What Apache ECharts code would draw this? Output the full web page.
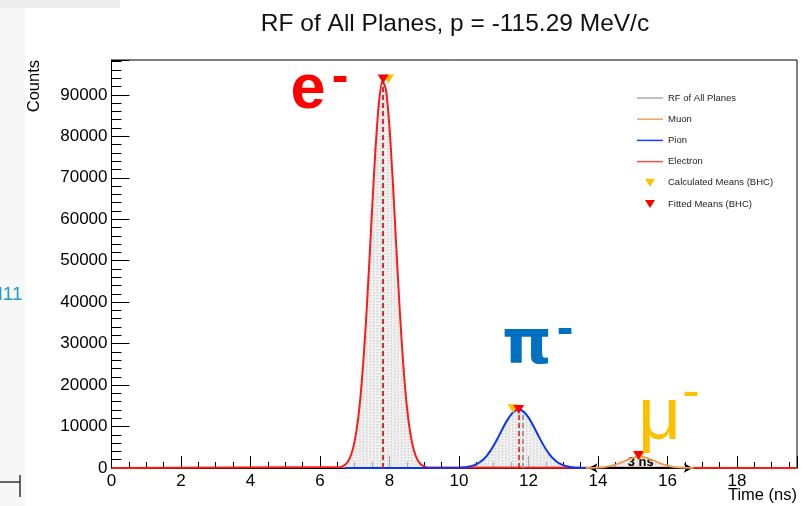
<!DOCTYPE html>
<html>
<head>
<meta charset="utf-8">
<script src="https://cdn.jsdelivr.net/npm/echarts@6/dist/echarts.min.js"></script>
<style>
  html, body { margin: 0; padding: 0; background: #ffffff; }
  #chart { width: 809px; height: 506px; }
</style>
</head>
<body>
<div id="chart"></div>
<script>
// RF timing of all planes: histogram plus per-species Gaussian fits (ns, counts)
const electronTime = [6.6, 6.7, 6.8, 6.9, 7.0, 7.1, 7.2, 7.3, 7.4, 7.5, 7.6, 7.7, 7.8, 7.9, 8.0, 8.1, 8.2, 8.3, 8.4, 8.5, 8.6, 8.7, 8.8, 8.9, 9.0, 9.1];
const electronCounts = [255, 645, 1505, 3250, 6490, 11950, 20350, 32000, 46400, 62300, 77150, 88300, 93350, 91160, 82200, 68500, 52700, 37500, 24600, 14900, 8360, 4330, 2070, 910, 370, 140];

const pionTime = [10.0, 10.1, 10.2, 10.3, 10.4, 10.5, 10.6, 10.7, 10.8, 10.9, 11.0, 11.1, 11.2, 11.3, 11.4, 11.5, 11.6, 11.7, 11.8, 11.9, 12.0, 12.1, 12.2, 12.3, 12.4, 12.5, 12.6, 12.7, 12.8, 12.9, 13.0, 13.1, 13.2, 13.3, 13.4, 13.5, 13.6];
const pionCounts = [60, 110, 200, 340, 565, 900, 1390, 2060, 2950, 4070, 5410, 6930, 8550, 10180, 11670, 12890, 13730, 14090, 13930, 13280, 12200, 10800, 9200, 7570, 6000, 4580, 3370, 2390, 1630, 1070, 680, 420, 245, 140, 76, 40, 20];

const muonTime = [13.8, 13.9, 14.0, 14.1, 14.2, 14.3, 14.4, 14.5, 14.6, 14.7, 14.8, 14.9, 15.0, 15.1, 15.2, 15.3, 15.4, 15.5, 15.6, 15.7, 15.8, 15.9, 16.0, 16.1, 16.2, 16.3, 16.4, 16.5, 16.6];
const muonCounts = [21, 42, 77, 136, 229, 365, 556, 805, 1110, 1456, 1820, 2162, 2446, 2634, 2700, 2650, 2440, 2150, 1810, 1440, 1100, 800, 550, 360, 225, 135, 75, 40, 20];

// Fit ranges along the time axis [from, to]
const electronRange = [0, 19.73];
const pionRange = [6.73, 13.65];
const muonRange = [13.65, 16.75];

// Means from the BHC: calculated and fitted (time, counts)
const calcMeanTime = [7.97, 11.56, 15.2];
const calcMeanCounts = [93800, 14300, 3000];
const fitMeanTime = [7.82, 11.72, 15.17];
const fitMeanCounts = [93800, 14100, 3000];
const pionHistMean = [11.83, 13400];

// 3 ns window around the muon peak
const muonWindow = [13.73, 16.73];
const muonWindowLabel = '3 ns';

// Axis ranges and tick spacing
const timeAxis = { min: 0, max: 19.73, interval: 2 };
const countAxis = { min: 0, max: 98400, interval: 10000 };

const FONT = '"Liberation Sans", Arial, Helvetica, sans-serif';
const pairs = (xs, ys) => xs.map((x, i) => [x, ys[i]]);
const histogram = [].concat(
  pairs(electronTime, electronCounts),
  pairs(pionTime, pionCounts),
  pairs(muonTime, muonCounts)
);
const electronCurve = [[electronRange[0], 0]].concat(pairs(electronTime, electronCounts), [[electronRange[1], 0]]);
const pionCurve = [[pionRange[0], 0]].concat(pairs(pionTime, pionCounts), [[pionRange[1], 0]]);
const muonCurve = [[muonRange[0], 0]].concat(pairs(muonTime, muonCounts), [[muonRange[1], 0]]);

const LINE_ICON = 'path://M0,0H26V1.5H0Z';
const TRI_ICON = 'path://M0,0H10L5,8Z';

const chart = echarts.init(document.getElementById('chart'), null, { renderer: 'canvas' });

const vline = (t, top, color, width, dash) => ({
  silent: true,
  symbol: 'none',
  label: { show: false },
  lineStyle: { color: color, width: width, type: dash, opacity: 1 },
  emphasis: { disabled: true },
  data: [[{ coord: [t, 0] }, { coord: [t, top] }]]
});

chart.setOption({
  animation: false,
  backgroundColor: '#ffffff',
  title: {
    text: 'RF of All Planes, p = -115.29 MeV/c',
    left: 455,
    top: 11.5,
    padding: 0,
    textAlign: 'center',
    textStyle: { fontFamily: FONT, fontSize: 24.5, fontWeight: 'normal', color: '#111' }
  },
  grid: {
    left: 111.5, right: 12, top: 60, bottom: 38,
    containLabel: false,
    outerBoundsMode: 'none',
    show: true, borderColor: '#000', borderWidth: 1, backgroundColor: 'transparent'
  },
  legend: {
    orient: 'vertical',
    left: 632, top: 88,
    itemWidth: 26, itemHeight: 8, itemGap: 11.2,
    selectedMode: false,
    textStyle: { fontFamily: FONT, fontSize: 9.5, color: '#222' },
    data: [
      { name: 'RF of All Planes', icon: LINE_ICON, itemStyle: { color: '#ababab', borderWidth: 0 } },
      { name: 'Muon', icon: LINE_ICON, itemStyle: { color: '#f4a35a', borderWidth: 0 } },
      { name: 'Pion', icon: LINE_ICON, itemStyle: { color: '#1a3cff', borderWidth: 0 } },
      { name: 'Electron', icon: LINE_ICON, itemStyle: { color: '#f25050', borderWidth: 0 } },
      { name: 'Calculated Means (BHC)', icon: TRI_ICON, itemStyle: { color: '#ffc000', borderWidth: 0 } },
      { name: 'Fitted Means (BHC)', icon: TRI_ICON, itemStyle: { color: '#ff0000', borderWidth: 0 } }
    ]
  },
  xAxis: {
    type: 'value',
    min: timeAxis.min, max: timeAxis.max, interval: timeAxis.interval,
    axisLine: { lineStyle: { color: '#000', width: 1 } },
    axisTick: { inside: true, length: 12, lineStyle: { color: '#000', width: 1 } },
    minorTick: { show: true, splitNumber: 4, length: 6, lineStyle: { color: '#000', width: 1 } },
    axisLabel: { fontFamily: FONT, fontSize: 17, color: '#000', margin: 5, showMaxLabel: false, formatter: v => String(v) },
    splitLine: { show: false }
  },
  yAxis: {
    type: 'value',
    min: countAxis.min, max: countAxis.max, interval: countAxis.interval,
    axisLine: { show: true, lineStyle: { color: '#000', width: 1 } },
    axisTick: { show: true, inside: true, length: 18, lineStyle: { color: '#000', width: 1 } },
    minorTick: { show: true, splitNumber: 5, length: 10, lineStyle: { color: '#000', width: 1 } },
    axisLabel: { fontFamily: FONT, fontSize: 17, color: '#000', margin: 4, showMaxLabel: false, formatter: v => String(v) },
    splitLine: { show: false }
  },
  series: [
    {
      name: 'RF of All Planes',
      type: 'bar',
      data: histogram,
      barWidth: 3.5,
      z: 1,
      silent: true,
      itemStyle: { color: 'rgba(236,236,236,0.7)', borderColor: '#a8a8a8', borderWidth: 0.7, borderType: [1, 2] }
    },
    {
      name: 'Electron',
      type: 'line',
      data: electronCurve,
      symbol: 'none',
      smooth: 0.25,
      z: 3,
      itemStyle: { color: '#ff1a1a' },
      lineStyle: { color: '#ff1a1a', width: 2 },
      markLine: vline(fitMeanTime[0], fitMeanCounts[0], '#cc3030', 2, [5, 3])
    },
    {
      name: 'Pion',
      type: 'line',
      data: pionCurve,
      symbol: 'none',
      smooth: 0.25,
      z: 4,
      itemStyle: { color: '#0a36f5' },
      lineStyle: { color: '#0a36f5', width: 2 },
      markLine: {
        silent: true,
        symbol: 'none',
        label: { show: false },
        emphasis: { disabled: true },
        data: [
          [{ coord: [pionHistMean[0], 0], lineStyle: { color: '#9a9a9a', width: 2, type: [5, 3] } },
           { coord: [pionHistMean[0], pionHistMean[1]] }],
          [{ coord: [fitMeanTime[1], 0], lineStyle: { color: '#ff0000', width: 1.5, type: [5, 3] } },
           { coord: [fitMeanTime[1], fitMeanCounts[1]] }]
        ]
      }
    },
    {
      name: 'Muon',
      type: 'line',
      data: muonCurve,
      symbol: 'none',
      smooth: 0.25,
      z: 5,
      itemStyle: { color: '#f39a45' },
      lineStyle: { color: '#f39a45', width: 1.8 },
      markLine: {
        silent: true,
        symbol: ['arrow', 'arrow'],
        symbolSize: [7, 9],
        emphasis: { disabled: true },
        lineStyle: { color: '#000', width: 2, type: 'solid', opacity: 1 },
        label: {
          show: true, position: 'middle', formatter: muonWindowLabel,
          fontFamily: FONT, fontSize: 13, fontWeight: 'bold', color: '#000', distance: -1
        },
        data: [[{ coord: [muonWindow[0], 0] }, { coord: [muonWindow[1], 0] }]]
      }
    },
    {
      name: 'Calculated Means (BHC)',
      type: 'scatter',
      data: pairs(calcMeanTime, calcMeanCounts),
      symbol: 'triangle',
      symbolRotate: 180,
      symbolSize: [11, 9],
      z: 8,
      itemStyle: { color: '#ffc000', opacity: 1 }
    },
    {
      name: 'Fitted Means (BHC)',
      type: 'scatter',
      data: pairs(fitMeanTime, fitMeanCounts),
      symbol: 'triangle',
      symbolRotate: 180,
      symbolSize: [11, 9],
      z: 9,
      itemStyle: { color: '#ff0000', opacity: 1 }
    }
  ],
  graphic: [
    // side panel remnants at the left edge
    { type: 'rect', z: -10, shape: { x: 0, y: 0, width: 120, height: 8 }, style: { fill: '#ececec' } },
    { type: 'rect', z: -10, shape: { x: 0, y: 8, width: 25, height: 498 }, style: { fill: '#f7f7f7' } },
    { type: 'text', z: -9, x: -13, y: 295, style: { text: 'M11', fontFamily: FONT, fontSize: 19, fill: '#1e9cc6', align: 'left', verticalAlign: 'middle' } },
    { type: 'rect', z: -8, shape: { x: 25, y: 280, width: 40, height: 30 }, style: { fill: '#ffffff' } },
    { type: 'line', z: -8, shape: { x1: 0, y1: 482, x2: 20, y2: 482 }, style: { stroke: '#333', lineWidth: 1.5 } },
    { type: 'line', z: -8, shape: { x1: 20, y1: 475, x2: 20, y2: 497 }, style: { stroke: '#333', lineWidth: 1.5 } },
    // axis titles
    { type: 'text', x: 34, y: 60, rotation: Math.PI / 2, style: { text: 'Counts', fontFamily: FONT, fontSize: 16.5, fill: '#000', align: 'right', verticalAlign: 'middle' } },
    { type: 'text', x: 797, y: 495, style: { text: 'Time (ns)', fontFamily: FONT, fontSize: 16.5, fill: '#000', align: 'right', verticalAlign: 'middle' } },
    // particle labels
    { type: 'text', x: 290.5, y: 91, z: 20, style: { text: 'e', fontFamily: FONT, fontWeight: 'bold', fontSize: 63, fill: '#ff0000', align: 'left', verticalAlign: 'middle' } },
    { type: 'text', x: 340, y: 78, z: 20, style: { text: '-', fontFamily: FONT, fontWeight: 'bold', fontSize: 50, fill: '#ff0000', align: 'center', verticalAlign: 'middle' } },
    { type: 'text', x: 502, y: 347, z: 20, style: { text: 'π', fontFamily: '"DejaVu Sans", sans-serif', fontWeight: 'bold', fontSize: 63, fill: '#0070c0', align: 'left', verticalAlign: 'middle' } },
    { type: 'text', x: 565, y: 330, z: 20, style: { text: '-', fontFamily: FONT, fontWeight: 'bold', fontSize: 50, fill: '#0070c0', align: 'center', verticalAlign: 'middle' } },
    { type: 'text', x: 638, y: 418, z: 20, style: { text: 'μ', fontFamily: FONT, fontSize: 75, fill: '#ffc000', align: 'left', verticalAlign: 'middle' } },
    { type: 'text', x: 691, y: 394, z: 20, style: { text: '-', fontFamily: FONT, fontSize: 52, fill: '#ffc000', align: 'center', verticalAlign: 'middle' } }
  ]
});
</script>
</body>
</html>
